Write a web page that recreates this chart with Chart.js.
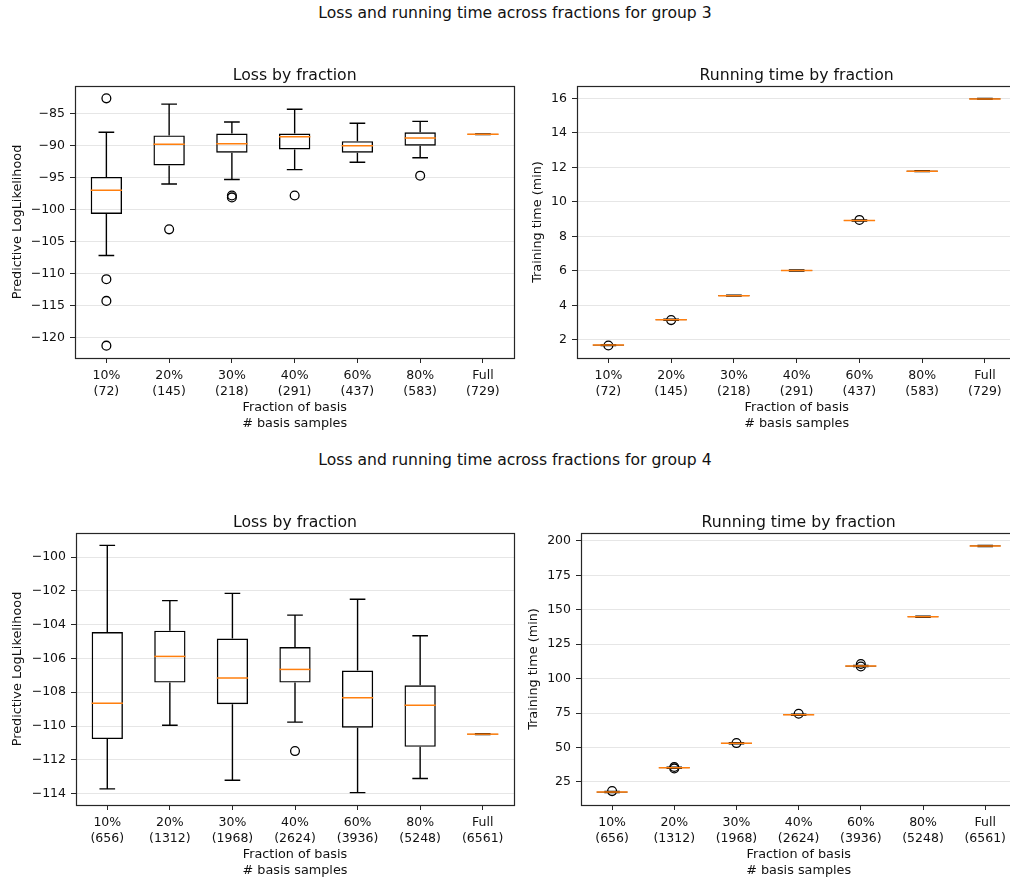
<!DOCTYPE html>
<html lang="en">
<head>
    <meta charset="UTF-8">
    <title>Loss and running time across fractions</title>
    <script src="https://cdn.jsdelivr.net/npm/chart.js"></script>
    <style>
        body {
            margin: 0;
            width: 1010px;
            height: 880px;
            position: relative;
            overflow: hidden;
            background: #fff;
            font-family: "DejaVu Sans", sans-serif;
            color: #111;
        }

        .suptitle {
            position: absolute;
            left: 0;
            width: 1030px;
            text-align: center;
            font-size: 15.6px;
            line-height: 18px;
        }

        canvas {
            position: absolute;
        }
    </style>
</head>
<body>
    <div class="suptitle" style="top: 4px;">Loss and running time across fractions for group 3</div>
    <canvas id="loss3" width="520" height="380" style="left: 0; top: 56px;"></canvas>
    <canvas id="time3" width="502" height="380" style="left: 520px; top: 56px;"></canvas>

    <div class="suptitle" style="top: 451px;">Loss and running time across fractions for group 4</div>
    <canvas id="loss4" width="520" height="380" style="left: 0; top: 503px;"></canvas>
    <canvas id="time4" width="502" height="380" style="left: 520px; top: 503px;"></canvas>

    <script>
        // Categories
        const fractions = ['10%', '20%', '30%', '40%', '60%', '80%', 'Full'];
        const basis3 = [72, 145, 218, 291, 437, 583, 729];
        const basis4 = [656, 1312, 1968, 2624, 3936, 5248, 6561];

        // Group 3 - predictive log likelihood (whisker low, Q1, median, Q3, whisker high, fliers)
        const loss3Low  = [-107.2, -96.0, -95.3, -93.75, -92.6, -91.9, -88.25];
        const loss3Q1   = [-100.7, -93.1, -91.1, -90.6, -91.1, -90.0, -88.25];
        const loss3Med  = [-97.0, -89.8, -89.7, -88.6, -90.0, -88.8, -88.2];
        const loss3Q3   = [-94.9, -88.4, -88.1, -88.1, -89.3, -87.9, -88.15];
        const loss3High = [-87.9, -83.5, -86.3, -84.3, -86.5, -86.2, -88.15];
        const loss3Fliers = [[-82.6, -110.9, -114.3, -121.3], [-103.1], [-97.8, -98.1], [-97.8], [], [-94.7], []];
        const loss3Ticks = [-120, -115, -110, -105, -100, -95, -90, -85];

        // Group 3 - training time (min)
        const time3Low  = [1.66, 3.13, 4.53, 5.99, 8.89, 11.75, 15.94];
        const time3Q1   = [1.66, 3.13, 4.53, 5.99, 8.89, 11.75, 15.94];
        const time3Med  = [1.69, 3.16, 4.56, 6.02, 8.92, 11.78, 15.97];
        const time3Q3   = [1.72, 3.19, 4.59, 6.05, 8.95, 11.81, 16.00];
        const time3High = [1.72, 3.19, 4.59, 6.05, 8.95, 11.81, 16.00];
        const time3Fliers = [[1.67], [3.14], [], [], [8.95], [], []];
        const time3Ticks = [2, 4, 6, 8, 10, 12, 14, 16];

        // Group 4 - predictive log likelihood
        const loss4Low  = [-113.72, -109.95, -113.21, -109.77, -113.94, -113.1, -110.5];
        const loss4Q1   = [-110.77, -107.43, -108.71, -107.43, -110.1, -111.23, -110.5];
        const loss4Med  = [-108.65, -105.88, -107.16, -106.65, -108.32, -108.77, -110.48];
        const loss4Q3   = [-104.44, -104.36, -104.82, -105.33, -106.72, -107.59, -110.46];
        const loss4High = [-99.31, -102.58, -102.15, -103.44, -102.5, -104.66, -110.46];
        const loss4Fliers = [[], [], [], [-111.48], [], [], []];
        const loss4Ticks = [-114, -112, -110, -108, -106, -104, -102, -100];

        // Group 4 - training time (min)
        const time4Low  = [17.2, 34.9, 52.6, 73.4, 108.7, 144.5, 196.0];
        const time4Q1   = [17.2, 34.9, 52.6, 73.4, 108.7, 144.5, 196.0];
        const time4Med  = [17.6, 35.3, 53.0, 73.8, 109.1, 144.9, 196.4];
        const time4Q3   = [18.0, 35.7, 53.4, 74.2, 109.5, 145.3, 196.8];
        const time4High = [18.0, 35.7, 53.4, 74.2, 109.5, 145.3, 196.8];
        const time4Fliers = [[18.3], [35.8, 34.8], [53.2], [74.5], [110.6, 108.8], [], []];
        const time4Ticks = [25, 50, 75, 100, 125, 150, 175, 200];

        Chart.defaults.font.family = '"DejaVu Sans", sans-serif';
        Chart.defaults.font.size = 12.5;
        Chart.defaults.color = '#111';

        const SPINE = '#262626';
        const MEDIAN = '#ff7f0e';

        // Whiskers, caps and median lines, drawn right after the box dataset
        const boxParts = {
            id: 'boxParts',
            afterDatasetDraw(chart, args, opts) {
                if (args.index !== 0) return;
                const { ctx, chartArea } = chart;
                const y = chart.scales.y;
                const bars = chart.getDatasetMeta(0).data;
                ctx.save();
                ctx.beginPath();
                ctx.rect(chartArea.left, chartArea.top, chartArea.width, chartArea.height);
                ctx.clip();
                bars.forEach((bar, i) => {
                    const half = bar.width / 2;
                    const yLow = y.getPixelForValue(opts.low[i]);
                    const yQ1 = y.getPixelForValue(opts.q1[i]);
                    const yQ3 = y.getPixelForValue(opts.q3[i]);
                    const yHigh = y.getPixelForValue(opts.high[i]);
                    const yMed = y.getPixelForValue(opts.med[i]);

                    ctx.strokeStyle = '#000';
                    ctx.lineWidth = 1.4;
                    ctx.beginPath();
                    ctx.moveTo(bar.x, yQ1);
                    ctx.lineTo(bar.x, yLow);
                    ctx.moveTo(bar.x, yQ3);
                    ctx.lineTo(bar.x, yHigh);
                    ctx.moveTo(bar.x - half / 2, yLow);
                    ctx.lineTo(bar.x + half / 2, yLow);
                    ctx.moveTo(bar.x - half / 2, yHigh);
                    ctx.lineTo(bar.x + half / 2, yHigh);
                    ctx.stroke();

                    ctx.strokeStyle = MEDIAN;
                    ctx.lineWidth = 1.5;
                    ctx.beginPath();
                    ctx.moveTo(bar.x - half, yMed);
                    ctx.lineTo(bar.x + half, yMed);
                    ctx.stroke();
                });
                ctx.restore();
            }
        };

        // Full frame round the plot area plus the axes title above it
        const frame = {
            id: 'frame',
            afterDraw(chart, args, opts) {
                const { ctx, chartArea } = chart;
                ctx.save();
                ctx.strokeStyle = SPINE;
                ctx.lineWidth = 1.2;
                ctx.strokeRect(Math.round(chartArea.left) + 0.5, Math.round(chartArea.top) + 0.5,
                    Math.round(chartArea.width), Math.round(chartArea.height));
                ctx.fillStyle = '#111';
                ctx.font = '15.7px "DejaVu Sans", sans-serif';
                ctx.textAlign = 'center';
                ctx.textBaseline = 'alphabetic';
                ctx.fillText(opts.text, (chartArea.left + chartArea.right) / 2, chartArea.top - 5.7);
                ctx.restore();
            }
        };

        function minus(v) {
            return String(v).replace('-', '\u2212');
        }

        function makeBoxChart(id, s) {
            // fliers keyed by category label so they sit on their box
            const flierPoints = [];
            s.fliers.forEach((list, i) => list.forEach(v => flierPoints.push({ x: fractions[i], y: v })));

            // matplotlib style 5% margin round the data
            const all = s.low.concat(s.high, flierPoints.map(p => p.y));
            const lo = Math.min(...all), hi = Math.max(...all);
            const margin = (hi - lo) * 0.05;

            return new Chart(document.getElementById(id), {
                type: 'bar',
                data: {
                    labels: fractions,
                    datasets: [{
                        data: s.q1.map((v, i) => [v, s.q3[i]]),
                        backgroundColor: 'rgba(0,0,0,0)',
                        borderColor: '#000',
                        borderWidth: 1.4,
                        borderSkipped: false,
                        barPercentage: 0.5,
                        categoryPercentage: 1.0
                    }, {
                        type: 'line',
                        data: flierPoints,
                        showLine: false,
                        pointRadius: 4.4,
                        pointBorderWidth: 1.3,
                        pointBorderColor: '#000',
                        pointBackgroundColor: 'rgba(0,0,0,0)'
                    }]
                },
                options: {
                    responsive: false,
                    devicePixelRatio: 1,
                    animation: false,
                    events: [],
                    layout: { padding: { top: 30, right: s.padRight, left: 0, bottom: 0 } },
                    plugins: {
                        legend: { display: false },
                        tooltip: { enabled: false },
                        boxParts: { low: s.low, q1: s.q1, med: s.med, q3: s.q3, high: s.high },
                        frame: { text: s.title }
                    },
                    scales: {
                        x: {
                            type: 'category',
                            offset: true,
                            border: { display: false },
                            grid: { drawOnChartArea: false, offset: false, tickLength: 5, tickColor: SPINE },
                            ticks: {
                                padding: 5,
                                maxRotation: 0,
                                autoSkip: false,
                                font: { lineHeight: 1.25 },
                                callback: (v, i) => [fractions[i], '(' + s.basis[i] + ')']
                            },
                            title: {
                                display: true,
                                text: ['Fraction of basis', '# basis samples'],
                                font: { size: 12.8, lineHeight: 1.25 },
                                padding: { top: 0, bottom: 4 }
                            },
                            afterFit(scale) { scale.height = 78; }
                        },
                        y: {
                            min: lo - margin,
                            max: hi + margin,
                            border: { display: false },
                            grid: { color: '#e6e6e6', tickLength: 5, tickColor: SPINE },
                            ticks: { padding: 5, callback: v => minus(v) },
                            afterBuildTicks(scale) {
                                scale.ticks = s.ticks.map(v => ({ value: v }));
                            },
                            title: {
                                display: true,
                                text: s.yTitle,
                                font: { size: 12.8 },
                                padding: { top: s.yTitlePad, bottom: 0 }
                            },
                            afterFit(scale) { scale.width = s.yWidth; }
                        }
                    }
                },
                plugins: [boxParts, frame]
            });
        }

        makeBoxChart('loss3', {
            basis: basis3, low: loss3Low, q1: loss3Q1, med: loss3Med, q3: loss3Q3, high: loss3High,
            fliers: loss3Fliers, ticks: loss3Ticks, title: 'Loss by fraction',
            yTitle: 'Predictive LogLikelihood', yWidth: 75, yTitlePad: 9.5, padRight: 3
        });
        makeBoxChart('time3', {
            basis: basis3, low: time3Low, q1: time3Q1, med: time3Med, q3: time3Q3, high: time3High,
            fliers: time3Fliers, ticks: time3Ticks, title: 'Running time by fraction',
            yTitle: 'Training time (min)', yWidth: 57, yTitlePad: 10, padRight: 2
        });
        makeBoxChart('loss4', {
            basis: basis4, low: loss4Low, q1: loss4Q1, med: loss4Med, q3: loss4Q3, high: loss4High,
            fliers: loss4Fliers, ticks: loss4Ticks, title: 'Loss by fraction',
            yTitle: 'Predictive LogLikelihood', yWidth: 76, yTitlePad: 9.5, padRight: 6
        });
        makeBoxChart('time4', {
            basis: basis4, low: time4Low, q1: time4Q1, med: time4Med, q3: time4Q3, high: time4High,
            fliers: time4Fliers, ticks: time4Ticks, title: 'Running time by fraction',
            yTitle: 'Training time (min)', yWidth: 61, yTitlePad: 5.5, padRight: 2
        });
    </script>
</body>
</html>
